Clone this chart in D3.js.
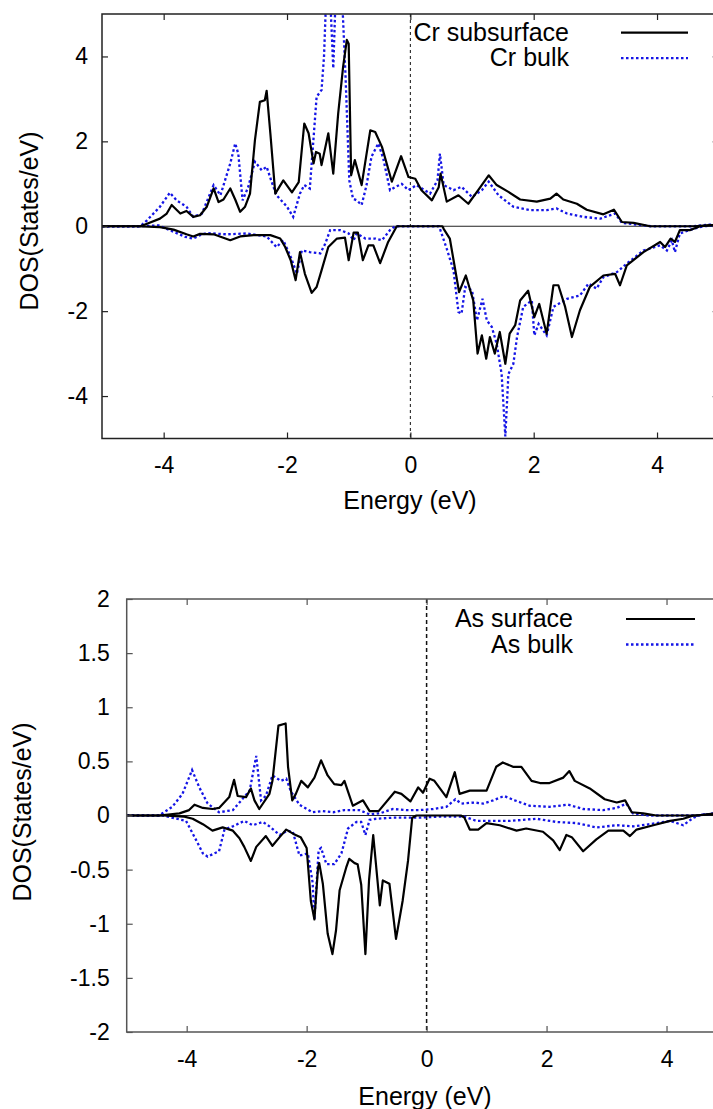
<!DOCTYPE html>
<html>
<head>
<meta charset="utf-8">
<script src="https://cdn.jsdelivr.net/npm/d3@7"></script>
<style>
  body { margin: 0; background: #fff; }
  svg { display: block; font-family: "Liberation Sans", Arial, sans-serif; }
</style>
</head>
<body>
<script>
// energy (eV), DOS (states/eV) pairs
var crSubUp = [[-5,0],[-4.38,0],[-4.27,0.06],[-4.06,0.18],[-3.95,0.30],[-3.87,0.50],[-3.73,0.30],[-3.63,0.36],[-3.52,0.22],[-3.41,0.26],[-3.30,0.46],[-3.19,0.89],[-3.11,0.57],[-3.03,0.63],[-2.92,0.89],[-2.84,0.63],[-2.76,0.34],[-2.68,0.46],[-2.60,0.77],[-2.52,2.03],[-2.44,2.93],[-2.36,2.97],[-2.33,3.19],[-2.27,2.19],[-2.19,0.77],[-2.06,1.08],[-1.92,0.80],[-1.81,1.04],[-1.72,2.42],[-1.65,2.19],[-1.57,1.48],[-1.53,1.75],[-1.47,1.71],[-1.44,1.44],[-1.33,2.19],[-1.25,1.24],[-1.17,2.66],[-1.09,3.76],[-1.03,4.39],[-1.00,4.30],[-0.96,1.20],[-0.90,1.56],[-0.79,0.97],[-0.65,2.26],[-0.57,2.22],[-0.46,1.87],[-0.30,1.05],[-0.15,1.65],[-0.03,1.16],[0.08,1.12],[0.18,0.85],[0.35,0.61],[0.46,0.92],[0.49,1.24],[0.59,0.58],[0.78,0.73],[0.94,0.53],[1.10,0.85],[1.27,1.20],[1.40,0.97],[1.59,0.81],[1.78,0.63],[2.05,0.58],[2.27,0.65],[2.37,0.77],[2.48,0.63],[2.70,0.53],[2.86,0.39],[3.13,0.28],[3.30,0.39],[3.43,0.10],[3.62,0.08],[3.89,0],[4.6,0],[4.85,0.03],[5,0.03]];
var crBulkUp = [[-5,0],[-4.38,0],[-4.27,0.14],[-4.06,0.46],[-3.90,0.79],[-3.79,0.61],[-3.63,0.46],[-3.52,0.22],[-3.38,0.30],[-3.19,0.97],[-3.08,0.73],[-2.92,1.48],[-2.84,1.95],[-2.79,1.71],[-2.72,0.61],[-2.63,0.92],[-2.52,1.52],[-2.41,1.32],[-2.33,1.40],[-2.25,1.05],[-2.17,0.73],[-2.00,0.46],[-1.90,0.22],[-1.79,0.77],[-1.72,0.97],[-1.63,0.89],[-1.52,3.05],[-1.44,3.21],[-1.40,4.0],[-1.36,5.6],[-1.30,5.4],[-1.25,3.72],[-1.21,5.5],[-1.16,6.0],[-1.11,5.5],[-1.05,3.5],[-0.99,1.08],[-0.93,0.65],[-0.87,0.61],[-0.79,0.50],[-0.71,0.97],[-0.63,1.64],[-0.52,1.95],[-0.44,1.60],[-0.33,0.85],[-0.25,0.92],[-0.14,1.0],[-0.03,0.85],[0.10,0.97],[0.32,0.77],[0.44,1.08],[0.48,1.71],[0.54,0.97],[0.70,0.85],[0.83,0.93],[1.00,0.69],[1.16,0.85],[1.27,1.05],[1.43,0.73],[1.67,0.46],[1.94,0.38],[2.21,0.38],[2.37,0.42],[2.54,0.30],[2.81,0.22],[3.08,0.18],[3.32,0.30],[3.43,0.08],[3.72,0.03],[3.9,0],[4.6,0],[4.85,0.04],[5,0.04]];
var crSubDn = [[-5,0],[-4.44,0],[-4.06,-0.02],[-3.84,-0.08],[-3.63,-0.19],[-3.52,-0.24],[-3.41,-0.18],[-3.19,-0.19],[-2.92,-0.33],[-2.76,-0.24],[-2.54,-0.21],[-2.27,-0.21],[-2.11,-0.29],[-2.03,-0.49],[-1.94,-0.80],[-1.86,-1.27],[-1.79,-0.61],[-1.71,-1.12],[-1.60,-1.57],[-1.52,-1.43],[-1.44,-1.04],[-1.33,-0.49],[-1.19,-0.29],[-1.06,-0.27],[-1.00,-0.80],[-0.92,-0.15],[-0.85,-0.15],[-0.77,-0.80],[-0.68,-0.45],[-0.60,-0.45],[-0.49,-0.87],[-0.36,-0.37],[-0.22,0],[0.52,0],[0.54,-0.06],[0.64,-0.29],[0.72,-0.96],[0.79,-1.55],[0.90,-1.16],[1.02,-1.75],[1.09,-3.0],[1.16,-2.57],[1.23,-3.12],[1.29,-2.61],[1.37,-3.0],[1.45,-2.49],[1.54,-3.24],[1.61,-2.53],[1.70,-2.33],[1.78,-1.75],[1.91,-1.52],[2.01,-2.14],[2.09,-1.83],[2.21,-2.53],[2.32,-1.39],[2.40,-1.39],[2.51,-1.90],[2.62,-2.61],[2.75,-1.98],[2.91,-1.43],[3.13,-1.16],[3.32,-1.12],[3.40,-1.39],[3.51,-0.92],[3.78,-0.61],[4.05,-0.37],[4.13,-0.49],[4.22,-0.29],[4.29,-0.37],[4.37,-0.09],[4.54,-0.09],[4.70,0],[5,0.03]];
var crBulkDn = [[-5,0],[-4.42,0],[-4.08,0.02],[-3.84,-0.13],[-3.65,-0.25],[-3.52,-0.29],[-3.41,-0.21],[-3.30,-0.16],[-2.98,-0.19],[-2.65,-0.17],[-2.33,-0.24],[-2.17,-0.49],[-2.06,-0.33],[-1.94,-0.72],[-1.84,-1.12],[-1.76,-0.57],[-1.63,-0.61],[-1.46,-0.64],[-1.38,-0.41],[-1.30,-0.09],[-1.14,-0.09],[-1.00,-0.17],[-0.92,-0.33],[-0.87,-0.17],[-0.73,-0.29],[-0.57,-0.29],[-0.46,-0.33],[-0.33,-0.09],[-0.25,0],[0.46,0],[0.48,-0.06],[0.59,-0.53],[0.70,-1.04],[0.78,-2.02],[0.83,-2.06],[0.89,-1.43],[1.00,-1.51],[1.08,-2.22],[1.17,-1.71],[1.24,-2.22],[1.32,-2.37],[1.40,-2.77],[1.48,-3.48],[1.54,-4.95],[1.59,-3.48],[1.67,-3.24],[1.73,-2.61],[1.83,-1.90],[1.97,-1.75],[2.01,-2.57],[2.08,-2.30],[2.21,-2.57],[2.32,-1.90],[2.54,-1.71],[2.75,-1.63],[2.89,-1.35],[3.02,-1.47],[3.13,-1.20],[3.35,-1.08],[3.51,-0.88],[3.78,-0.57],[4.05,-0.45],[4.16,-0.57],[4.24,-0.33],[4.29,-0.61],[4.37,-0.17],[4.59,-0.06],[4.75,0],[5,0.02]];

var asSurfUp = [[-5,0],[-4.46,0],[-4.12,0.02],[-3.96,0.05],[-3.87,0.10],[-3.73,0.07],[-3.57,0.06],[-3.46,0.07],[-3.29,0.17],[-3.21,0.33],[-3.15,0.18],[-3.01,0.17],[-2.93,0.25],[-2.87,0.14],[-2.79,0.06],[-2.62,0.20],[-2.57,0.32],[-2.47,0.83],[-2.35,0.85],[-2.31,0.45],[-2.24,0.14],[-2.18,0.20],[-2.09,0.32],[-1.98,0.26],[-1.87,0.35],[-1.76,0.51],[-1.65,0.37],[-1.54,0.29],[-1.42,0.28],[-1.37,0.32],[-1.31,0.22],[-1.23,0.09],[-1.06,0.14],[-0.95,0.04],[-0.80,0.04],[-0.53,0.22],[-0.42,0.20],[-0.27,0.13],[-0.14,0.26],[-0.06,0.21],[0.05,0.34],[0.13,0.32],[0.33,0.17],[0.47,0.40],[0.55,0.20],[0.72,0.23],[1.00,0.23],[1.16,0.45],[1.27,0.49],[1.44,0.45],[1.58,0.45],[1.75,0.32],[1.89,0.30],[2.05,0.30],[2.28,0.35],[2.38,0.41],[2.47,0.32],[2.72,0.25],[2.97,0.15],[3.17,0.12],[3.31,0.14],[3.42,0.03],[3.61,0.02],[3.83,0],[4.5,0],[4.8,0.02],[5,0.03]];
var asBulkUp = [[-5,0],[-4.46,0],[-4.24,0.08],[-4.07,0.20],[-3.91,0.42],[-3.79,0.26],[-3.65,0.11],[-3.46,0.03],[-3.23,0.05],[-3.12,0.12],[-2.95,0.23],[-2.84,0.55],[-2.76,0.14],[-2.68,0.18],[-2.57,0.37],[-2.43,0.32],[-2.34,0.34],[-2.26,0.22],[-2.12,0.10],[-1.90,0.03],[-1.73,0.04],[-1.56,0.03],[-1.37,0.05],[-1.12,0.05],[-0.95,0.01],[-0.78,0.02],[-0.56,0.06],[-0.34,0.05],[-0.12,0.05],[0.11,0.06],[0.33,0.08],[0.48,0.15],[0.58,0.11],[0.80,0.12],[0.94,0.11],[1.11,0.14],[1.29,0.18],[1.47,0.14],[1.72,0.09],[2.05,0.08],[2.36,0.10],[2.61,0.06],[2.94,0.05],[3.17,0.07],[3.33,0.11],[3.44,0.02],[3.7,0],[4.5,0],[4.8,0.02],[5,0.02]];
var asSurfDn = [[-5,0],[-4.40,0],[-4.04,-0.01],[-3.90,-0.03],[-3.73,-0.08],[-3.57,-0.14],[-3.40,-0.11],[-3.23,-0.14],[-3.12,-0.21],[-3.04,-0.29],[-2.93,-0.42],[-2.84,-0.29],[-2.68,-0.19],[-2.57,-0.28],[-2.45,-0.20],[-2.34,-0.13],[-2.22,-0.17],[-2.10,-0.20],[-2.00,-0.30],[-1.93,-0.79],[-1.87,-0.96],[-1.81,-0.48],[-1.79,-0.44],[-1.73,-0.63],[-1.65,-1.09],[-1.57,-1.28],[-1.51,-1.06],[-1.45,-0.69],[-1.34,-0.48],[-1.29,-0.40],[-1.20,-0.44],[-1.15,-0.45],[-1.09,-0.64],[-1.02,-1.28],[-0.96,-0.60],[-0.89,-0.18],[-0.78,-0.83],[-0.73,-0.60],[-0.62,-0.63],[-0.51,-1.14],[-0.40,-0.79],[-0.31,-0.42],[-0.24,-0.02],[-0.17,0],[0.57,0],[0.63,-0.02],[0.72,-0.13],[0.86,-0.13],[1.00,-0.07],[1.22,-0.09],[1.50,-0.14],[1.66,-0.12],[1.94,-0.15],[2.11,-0.23],[2.22,-0.32],[2.33,-0.18],[2.42,-0.20],[2.61,-0.33],[2.83,-0.22],[3.03,-0.14],[3.28,-0.14],[3.39,-0.19],[3.50,-0.13],[3.78,-0.09],[4.06,-0.05],[4.28,-0.03],[4.45,0],[4.8,0.01],[5,0.02]];
var asBulkDn = [[-5,0],[-4.40,0],[-4.01,-0.05],[-3.84,-0.23],[-3.73,-0.35],[-3.65,-0.38],[-3.54,-0.35],[-3.46,-0.33],[-3.37,-0.13],[-3.23,-0.10],[-3.04,-0.05],[-2.90,-0.09],[-2.73,-0.06],[-2.62,-0.10],[-2.45,-0.18],[-2.32,-0.14],[-2.23,-0.15],[-2.12,-0.37],[-1.98,-0.35],[-1.90,-0.62],[-1.87,-0.96],[-1.80,-0.32],[-1.76,-0.30],[-1.67,-0.45],[-1.54,-0.45],[-1.42,-0.35],[-1.31,-0.12],[-1.17,-0.06],[-1.09,-0.06],[-1.02,-0.18],[-0.95,-0.04],[-0.84,-0.03],[-0.56,-0.02],[-0.12,-0.02],[0.22,-0.01],[0.63,-0.01],[0.83,-0.05],[1.05,-0.05],[1.39,-0.05],[1.83,-0.03],[2.17,-0.06],[2.50,-0.07],[2.83,-0.11],[3.17,-0.09],[3.45,-0.10],[3.72,-0.08],[4.06,-0.05],[4.28,-0.09],[4.45,-0.02],[4.6,0.01],[5,0.01]];

var xTicks = [-4, -2, 0, 2, 4];
var yTicksCr = [-4, -2, 0, 2, 4];
var yTicksAs = [-2, -1.5, -1, -0.5, 0, 0.5, 1, 1.5, 2];
var legendCr = ["Cr subsurface", "Cr bulk"];
var legendAs = ["As surface", "As bulk"];

var W = 713, H = 1109;
var blue = "#1414e6";

var svg = d3.select("body").append("svg")
    .attr("width", W)
    .attr("height", H);

svg.append("rect").attr("width", W).attr("height", H).attr("fill", "#fff");

function drawPanel(p) {
    var x = d3.scaleLinear().domain([-5, 5]).range([p.left, p.right]);
    var y = d3.scaleLinear().domain(p.yDomain).range([p.bottom, p.top]);

    var g = svg.append("g");

    g.append("clipPath").attr("id", p.id)
        .append("rect")
        .attr("x", p.left).attr("y", p.top)
        .attr("width", p.right - p.left).attr("height", p.bottom - p.top);

    // zero line and Fermi level
    g.append("line")
        .attr("x1", p.left).attr("x2", p.right)
        .attr("y1", y(0)).attr("y2", y(0))
        .attr("stroke", "#222").attr("stroke-width", 1.2);
    g.append("line")
        .attr("x1", x(0)).attr("x2", x(0))
        .attr("y1", p.top).attr("y2", p.bottom)
        .attr("stroke", "#111").attr("stroke-width", p.vWidth)
        .attr("stroke-dasharray", p.vDash);

    var line = d3.line().x(d => x(d[0])).y(d => y(d[1]));
    var lines = g.append("g").attr("clip-path", "url(#" + p.id + ")");

    p.bulk.forEach(s => {
        lines.append("path").attr("d", line(s))
            .attr("fill", "none").attr("stroke", blue)
            .attr("stroke-width", 2.3).attr("stroke-dasharray", "2.5,2.5");
    });
    p.surf.forEach(s => {
        lines.append("path").attr("d", line(s))
            .attr("fill", "none").attr("stroke", "#000")
            .attr("stroke-width", 2.2).attr("stroke-linejoin", "round");
    });

    // axes with inward ticks
    g.append("g")
        .attr("transform", "translate(0," + p.bottom + ")")
        .call(d3.axisBottom(x).tickValues(xTicks).tickSize(-6).tickPadding(p.xPad).tickFormat(d => String(d)));
    g.append("g")
        .attr("transform", "translate(0," + p.top + ")")
        .call(d3.axisTop(x).tickValues(xTicks).tickSize(-6).tickFormat(""));
    g.append("g")
        .attr("transform", "translate(" + p.left + ",0)")
        .call(d3.axisLeft(y).tickValues(p.yTicks).tickSize(-6).tickPadding(p.yPad).tickFormat(d => String(d)));
    g.append("g")
        .attr("transform", "translate(" + p.right + ",0)")
        .call(d3.axisRight(y).tickValues(p.yTicks).tickSize(-6).tickFormat(""));

    g.selectAll(".domain").remove();
    g.selectAll(".tick line").attr("stroke", p.frame).attr("stroke-width", 1.2);
    g.selectAll(".tick text").attr("font-size", 23).attr("fill", "#000")
        .attr("font-family", "Liberation Sans, Arial, sans-serif");

    g.append("rect")
        .attr("x", p.left).attr("y", p.top)
        .attr("width", p.right - p.left).attr("height", p.bottom - p.top)
        .attr("fill", "none").attr("stroke", p.frame).attr("stroke-width", 1.5);

    g.append("text")
        .attr("transform", "translate(" + p.yLabelX + "," + p.yLabelY + ") rotate(-90)")
        .attr("text-anchor", "middle")
        .attr("font-size", 25)
        .text("DOS(States/eV)");

    g.append("text")
        .attr("x", p.xLabelX).attr("y", p.xLabelY)
        .attr("text-anchor", "middle")
        .attr("font-size", 25)
        .text("Energy (eV)");

    // legend
    p.legend.forEach((name, i) => {
        var ly = p.legY + i * 25.5;
        g.append("text")
            .attr("x", p.legTextX).attr("y", ly + 8)
            .attr("text-anchor", "end")
            .attr("font-size", 25)
            .text(name);
        g.append("line")
            .attr("x1", p.legLineX1).attr("x2", p.legLineX2)
            .attr("y1", ly).attr("y2", ly)
            .attr("stroke", i === 0 ? "#000" : blue)
            .attr("stroke-width", i === 0 ? 2.2 : 2.3)
            .attr("stroke-dasharray", i === 0 ? null : "2.5,2.5");
    });
}

drawPanel({
    id: "clipCr", left: 102, right: 718.7, top: 14, bottom: 438.5,
    yDomain: [-5, 5], yTicks: yTicksCr,
    surf: [crSubUp, crSubDn], bulk: [crBulkUp, crBulkDn],
    xPad: 18, yPad: 14, frame: "#222",
    vDash: "3,3", vWidth: 1,
    yLabelX: 38, yLabelY: 221, xLabelX: 410, xLabelY: 509,
    legend: legendCr, legY: 32.7, legTextX: 569, legLineX1: 621, legLineX2: 688
});

drawPanel({
    id: "clipAs", left: 126.7, right: 726.5, top: 599, bottom: 1032,
    yDomain: [-2, 2], yTicks: yTicksAs,
    surf: [asSurfUp, asSurfDn], bulk: [asBulkUp, asBulkDn],
    xPad: 19, yPad: 17, frame: "#555",
    vDash: "4,3", vWidth: 1.5,
    yLabelX: 31, yLabelY: 812, xLabelX: 425, xLabelY: 1105,
    legend: legendAs, legY: 619, legTextX: 573, legLineX1: 626, legLineX2: 695
});
</script>
</body>
</html>
